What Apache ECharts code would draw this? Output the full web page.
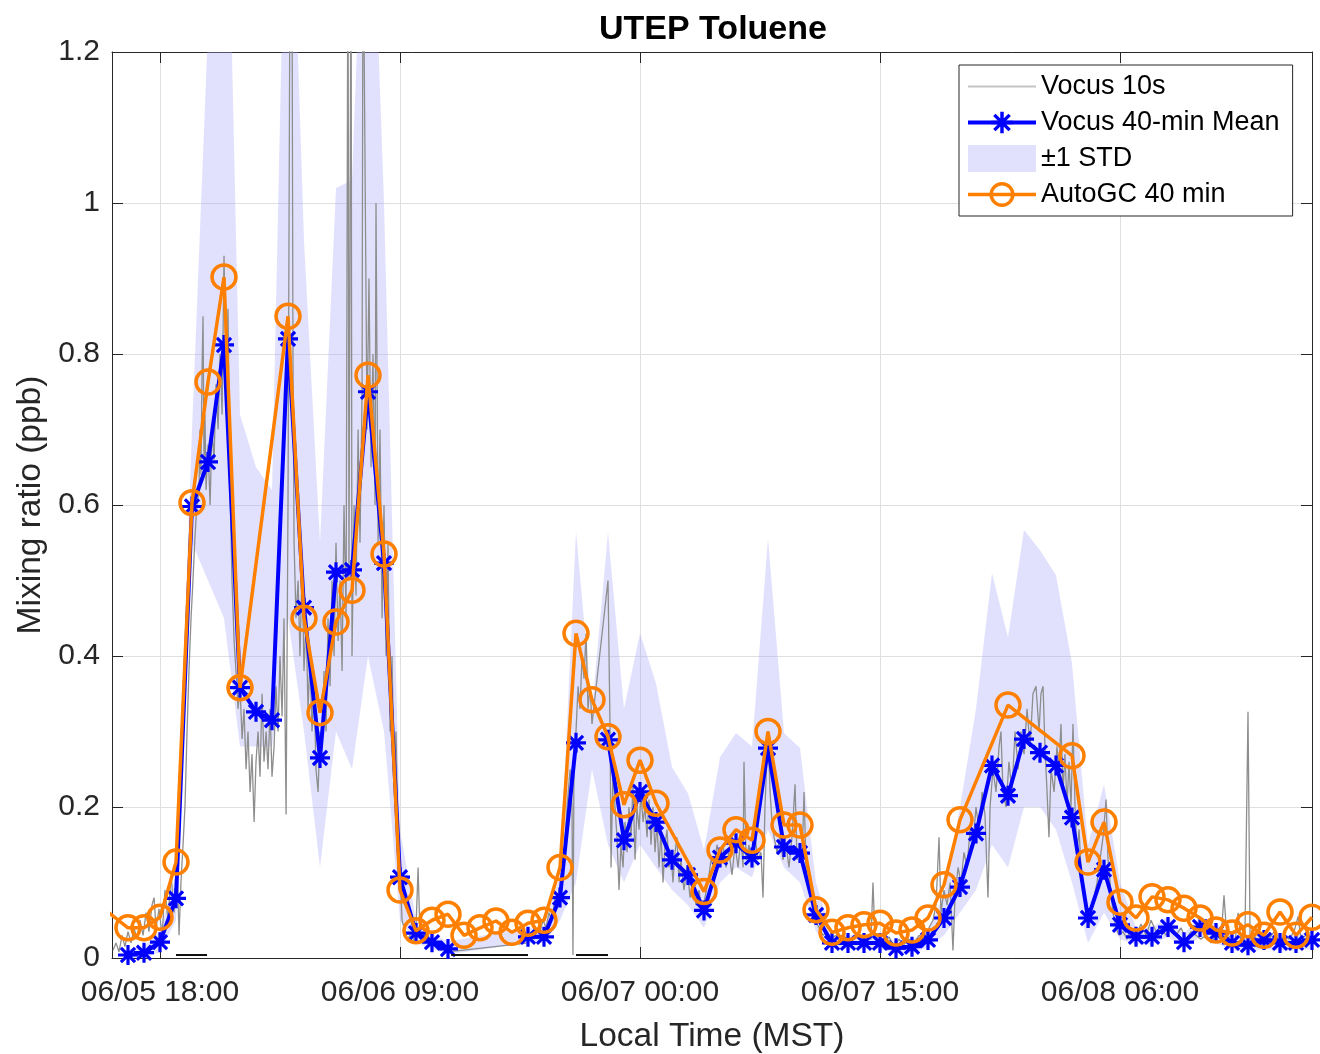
<!DOCTYPE html>
<html><head><meta charset="utf-8">
<script src="https://cdn.jsdelivr.net/npm/echarts/dist/echarts.min.js"></script>
<style>html,body{margin:0;padding:0;background:#fff}#c{width:1320px;height:1054px}</style>
</head><body><div id="c"></div>
<script>
// ---------- data (time in hours since 06/05 00:00 MST) ----------
const xTickHours = [18, 33, 48, 63, 78];

const meanTime = [16,17,18,19,20,21,22,23,24,25,26,27,28,29,30,31,32,33,34,35,36,37,38,39,40,41,42,43,44,45,46,47,48,49,50,51,52,53,54,55,56,57,58,59,60,61,62,63,64,65,66,67,68,69,70,71,72,73,74,75,76,77,78,79,80,81,82,83,84,85,86,87,88,89,90];
const meanValue = [0.004,0.007,0.021,0.079,0.598,0.657,0.812,0.358,0.326,0.315,0.820,0.464,0.265,0.511,0.514,0.750,0.523,0.107,0.033,0.021,0.012,null,null,null,null,0.028,0.028,0.080,0.285,null,0.289,0.156,0.220,0.180,0.130,0.110,0.063,0.133,0.152,0.133,0.278,0.147,0.139,0.057,0.020,0.020,0.020,0.020,0.013,0.015,0.024,0.053,0.094,0.165,0.255,0.215,0.290,0.272,0.255,0.186,0.053,0.117,0.044,0.028,0.028,0.041,0.021,0.041,0.033,0.020,0.017,0.024,0.020,0.020,0.024];

const bandTime = [16,17,18,19,20,21,22,23,24,25,26,27,28,29,30,31,32,33,34,35,36,41,42,43,44,45,46,47,48,49,50,51,52,53,54,55,56,57,58,59,60,61,62,63,64,65,66,67,68,69,70,71,72,73,74,75,76,77,78,79,80,81,82,83,84,85,86,87,88,89,90];
const bandLow  = [0.000,0.000,0.008,0.050,0.550,0.500,0.450,0.280,0.280,0.280,0.450,0.300,0.120,0.300,0.250,0.400,0.300,0.050,0.020,0.012,0.005,0.020,0.020,0.050,0.100,0.250,0.150,0.100,0.150,0.120,0.090,0.070,0.040,0.100,0.120,0.107,0.170,0.120,0.100,0.035,0.012,0.012,0.012,0.012,0.006,0.007,0.014,0.030,0.060,0.090,0.150,0.120,0.200,0.200,0.170,0.100,0.020,0.060,0.025,0.018,0.018,0.028,0.012,0.028,0.020,0.010,0.008,0.012,0.010,0.010,0.012];
const bandHigh = [0.012,0.016,0.036,0.110,0.700,1.230,1.670,0.720,0.650,0.620,1.600,0.950,0.550,1.020,1.030,1.600,1.000,0.170,0.050,0.032,0.022,0.040,0.040,0.110,0.565,0.330,0.564,0.330,0.430,0.364,0.253,0.218,0.143,0.266,0.298,0.280,0.556,0.298,0.278,0.100,0.030,0.030,0.030,0.030,0.022,0.024,0.036,0.085,0.200,0.330,0.510,0.425,0.567,0.540,0.507,0.390,0.150,0.230,0.100,0.040,0.040,0.055,0.032,0.055,0.045,0.030,0.028,0.036,0.030,0.030,0.036];

const gcTime  = [14.8,16,17,18,19,20,21,22,23,26,27,28,29,30,31,32,33,34,35,36,37,38,39,40,41,42,43,44,45,46,47,48,49,52,53,54,55,56,57,58,59,60,61,62,63,64,65,66,67,68,71,75,76,77,78,79,80,81,82,83,84,85,86,87,88,89,90];
const gcValue = [0.060,0.040,0.040,0.054,0.127,0.603,0.763,0.902,0.358,0.850,0.450,0.325,0.445,0.487,0.772,0.535,0.090,0.036,0.050,0.058,0.030,0.040,0.049,0.034,0.046,0.050,0.120,0.430,0.342,0.293,0.203,0.262,0.205,0.088,0.143,0.170,0.156,0.300,0.176,0.176,0.064,0.034,0.040,0.044,0.046,0.033,0.037,0.053,0.097,0.183,0.335,0.268,0.127,0.180,0.074,0.053,0.081,0.077,0.066,0.053,0.037,0.033,0.044,0.030,0.061,0.030,0.054];

const vocus10s = [
[15.06,0.010],[15.25,0.020],[15.44,0.008],[15.63,0.030],[15.81,0.015],[16.00,0.035],[16.19,0.020],[16.38,0.040],[16.56,0.025],[16.75,0.050],[16.94,0.030],[17.13,0.060],[17.31,0.035],[17.50,0.070],[17.63,0.080],[17.75,0.040],[17.94,0.065],[18.13,0.030],[18.31,0.090],[18.50,0.050],[18.69,0.110],[18.88,0.060],[19.06,0.130],[19.19,0.030],[19.31,0.100],[19.44,0.150],[19.56,0.200],[19.69,0.300],[19.81,0.380],[19.94,0.450],[20.06,0.500],[20.19,0.560],[20.31,0.600],[20.44,0.620],[20.50,0.700],[20.56,0.640],[20.63,0.780],[20.69,0.850],[20.75,0.660],[20.81,0.720],[20.88,0.620],[21.00,0.680],[21.13,0.600],[21.25,0.700],[21.38,0.660],[21.50,0.760],[21.63,0.700],[21.75,0.800],[21.88,0.720],[22.00,0.930],[22.13,0.780],[22.25,0.860],[22.38,0.620],[22.50,0.500],[22.63,0.420],[22.75,0.380],[22.88,0.330],[23.00,0.360],[23.13,0.290],[23.25,0.330],[23.38,0.250],[23.50,0.300],[23.63,0.220],[23.75,0.270],[23.88,0.180],[24.00,0.260],[24.13,0.300],[24.25,0.240],[24.38,0.350],[24.50,0.260],[24.63,0.300],[24.75,0.250],[24.88,0.330],[25.00,0.240],[25.13,0.280],[25.25,0.360],[25.38,0.300],[25.50,0.400],[25.63,0.320],[25.75,0.450],[25.88,0.190],[26.00,0.600],[26.13,1.350],[26.25,1.300],[26.31,0.800],[26.38,0.550],[26.50,0.450],[26.63,0.500],[26.75,0.400],[26.88,0.520],[27.00,0.380],[27.13,0.450],[27.25,0.330],[27.38,0.400],[27.50,0.300],[27.63,0.360],[27.75,0.250],[27.88,0.220],[28.00,0.300],[28.13,0.280],[28.25,0.380],[28.38,0.300],[28.50,0.450],[28.63,0.360],[28.75,0.500],[28.88,0.400],[29.00,0.550],[29.13,0.420],[29.25,0.500],[29.38,0.380],[29.50,0.600],[29.63,0.450],[29.75,1.400],[29.81,0.500],[29.94,1.400],[30.00,0.400],[30.13,0.600],[30.25,0.480],[30.38,0.700],[30.50,0.550],[30.63,0.750],[30.69,1.400],[30.81,1.400],[30.94,0.700],[31.06,0.900],[31.19,0.650],[31.31,0.800],[31.44,0.600],[31.50,1.000],[31.63,0.550],[31.75,0.700],[31.88,0.450],[32.00,0.600],[32.13,0.400],[32.25,0.550],[32.38,0.300],[32.50,0.400],[32.63,0.250],[32.75,0.300],[32.88,0.150],[33.00,0.120],[33.13,0.050],[33.25,0.040],[33.44,0.025],[33.63,0.030],[33.81,0.020],[34.00,0.040],[34.13,0.120],[34.25,0.030],[34.44,0.025],[34.63,0.040],[34.81,0.020],[35.00,0.030],[35.19,0.015],[35.38,0.020],[35.56,0.010],[35.75,0.015],[36.00,0.008],
[41.00,0.020],[41.19,0.030],[41.38,0.025],[41.56,0.040],[41.75,0.035],[41.94,0.050],[42.13,0.040],[42.31,0.060],[42.50,0.050],[42.69,0.080],[42.88,0.070],[43.06,0.100],[43.25,0.130],[43.44,0.200],[43.63,0.250],[43.75,0.200],[43.81,0.004],[43.88,0.280],[44.00,0.300],[44.13,0.360],[44.25,0.330],[44.38,0.400],[44.50,0.370],[44.63,0.430],[44.75,0.330],[44.88,0.360],[45.00,0.310],
[46.00,0.500],[46.13,0.300],[46.19,0.120],[46.31,0.250],[46.44,0.200],[46.56,0.160],[46.69,0.090],[46.81,0.150],[46.94,0.120],[47.06,0.180],[47.19,0.140],[47.31,0.200],[47.44,0.160],[47.56,0.230],[47.69,0.130],[47.81,0.200],[47.94,0.170],[48.06,0.220],[48.19,0.180],[48.31,0.200],[48.44,0.160],[48.56,0.210],[48.69,0.150],[48.81,0.200],[48.94,0.140],[49.06,0.180],[49.19,0.120],[49.31,0.170],[49.44,0.100],[49.56,0.150],[49.69,0.170],[49.81,0.120],[49.94,0.140],[50.06,0.100],[50.19,0.140],[50.31,0.160],[50.44,0.100],[50.56,0.130],[50.75,0.090],[50.94,0.120],[51.13,0.080],[51.31,0.100],[51.50,0.070],[51.69,0.090],[51.88,0.060],[52.06,0.080],[52.25,0.100],[52.44,0.130],[52.63,0.120],[52.81,0.150],[53.00,0.130],[53.19,0.150],[53.38,0.120],[53.56,0.140],[53.75,0.110],[53.94,0.150],[54.13,0.120],[54.31,0.160],[54.44,0.120],[54.50,0.260],[54.63,0.130],[54.81,0.150],[55.00,0.120],[55.19,0.160],[55.38,0.130],[55.56,0.140],[55.69,0.080],[55.81,0.200],[56.00,0.300],[56.13,0.220],[56.25,0.180],[56.38,0.160],[56.56,0.140],[56.75,0.160],[56.94,0.130],[57.13,0.150],[57.31,0.120],[57.50,0.160],[57.69,0.230],[57.81,0.130],[58.00,0.150],[58.13,0.130],[58.25,0.220],[58.38,0.120],[58.56,0.090],[58.75,0.070],[58.94,0.050],[59.19,0.040],[59.44,0.030],[59.69,0.035],[59.94,0.025],[60.25,0.030],[60.56,0.020],[60.88,0.028],[61.19,0.020],[61.50,0.030],[61.81,0.022],[62.13,0.030],[62.44,0.025],[62.56,0.100],[62.69,0.025],[62.94,0.030],[63.25,0.020],[63.56,0.028],[63.88,0.015],[64.19,0.025],[64.50,0.018],[64.81,0.025],[65.13,0.020],[65.44,0.030],[65.75,0.025],[66.06,0.040],[66.31,0.050],[66.50,0.070],[66.69,0.160],[66.81,0.060],[67.00,0.090],[67.19,0.070],[67.38,0.100],[67.56,0.010],[67.69,0.080],[67.88,0.120],[68.06,0.100],[68.25,0.140],[68.44,0.120],[68.63,0.170],[68.81,0.150],[69.00,0.200],[69.19,0.170],[69.38,0.220],[69.56,0.190],[69.75,0.080],[69.88,0.200],[70.06,0.250],[70.25,0.220],[70.44,0.280],[70.56,0.300],[70.69,0.220],[70.88,0.200],[71.06,0.260],[71.25,0.220],[71.44,0.300],[71.63,0.250],[71.81,0.300],[72.00,0.270],[72.19,0.330],[72.38,0.280],[72.56,0.350],[72.75,0.360],[72.94,0.300],[73.06,0.350],[73.19,0.360],[73.31,0.280],[73.44,0.220],[73.56,0.160],[73.69,0.250],[73.88,0.220],[74.06,0.280],[74.19,0.250],[74.31,0.310],[74.44,0.220],[74.56,0.270],[74.69,0.200],[74.81,0.260],[74.94,0.200],[75.06,0.310],[75.19,0.200],[75.31,0.140],[75.44,0.170],[75.56,0.120],[75.69,0.100],[75.81,0.070],[75.94,0.050],[76.06,0.040],[76.19,0.060],[76.38,0.080],[76.56,0.100],[76.75,0.130],[76.94,0.160],[77.13,0.210],[77.25,0.130],[77.38,0.100],[77.56,0.060],[77.75,0.040],[77.94,0.030],[78.19,0.035],[78.44,0.025],[78.69,0.040],[79.00,0.030],[79.31,0.045],[79.63,0.030],[79.94,0.050],[80.25,0.035],[80.56,0.040],[80.88,0.030],[81.19,0.045],[81.50,0.030],[81.81,0.040],[82.13,0.025],[82.44,0.035],[82.75,0.030],[83.06,0.025],[83.38,0.030],[83.69,0.020],[84.00,0.030],[84.31,0.025],[84.50,0.083],[84.69,0.025],[84.94,0.030],[85.19,0.020],[85.38,0.060],[85.56,0.025],[85.81,0.030],[86.00,0.326],[86.13,0.025],[86.38,0.030],[86.69,0.020],[87.00,0.030],[87.31,0.025],[87.63,0.035],[87.94,0.020],[88.25,0.030],[88.56,0.025],[88.88,0.035],[89.13,0.055],[89.31,0.025],[89.63,0.030],[90.06,0.025]
];

// instrument zero / blank periods (dark marks at the bottom)
const flagStart = [19.0, 36.2, 44.0];
const flagEnd   = [20.94, 41.0, 46.0];
const flagLevel = 0.004;

// ---------- chart ----------
const FONT = "'Liberation Sans', Arial, Helvetica, sans-serif";
const AX = '#262626';
const GRID = '#dfdfdf';
const BAND = 'rgba(170,170,248,0.35)';

function fmtHour(h) {
  const day = 5 + Math.floor(h / 24);
  const hh = ((h % 24) + 24) % 24;
  return '06/' + String(day).padStart(2, '0') + ' ' + String(hh).padStart(2, '0') + ':00';
}

const asterisk = 'path://M-10,-1.6L10,-1.6L10,1.6L-10,1.6Z' +
  'M-1.6,-10L1.6,-10L1.6,10L-1.6,10Z' +
  'M-5.94,-8.2L8.2,5.94L5.94,8.2L-8.2,-5.94Z' +
  'M-8.2,5.94L5.94,-8.2L8.2,-5.94L-5.94,8.2Z';

const meanData = meanTime.map((t, i) => [t, meanValue[i]]);
const gcData = gcTime.map((t, i) => [t, gcValue[i]]);
const bandData = bandTime.map((t, i) => [t, bandLow[i], bandHigh[i]]);
const flagData = [];
flagStart.forEach((s, i) => { flagData.push([s, flagLevel], [flagEnd[i], flagLevel], [flagEnd[i], null]); });

const chart = echarts.init(document.getElementById('c'), null, {renderer: 'canvas', width: 1320, height: 1054});

const baseX = {
  type: 'value', min: 15, max: 90,
  axisLine: {show: true, onZero: false, lineStyle: {color: AX, width: 1}},
  axisTick: {show: true, inside: true, length: 11, customValues: xTickHours, lineStyle: {color: AX, width: 1}},
};
const baseY = {
  type: 'value', min: 0, max: 1.2, interval: 0.2,
  axisLine: {show: true, onZero: false, lineStyle: {color: AX, width: 1}},
  axisTick: {show: true, inside: true, length: 11, lineStyle: {color: AX, width: 1}},
};

chart.setOption({
  animation: false,
  textStyle: {fontFamily: FONT},
  title: {
    text: 'UTEP Toluene', left: 594, top: 8,
    textStyle: {fontSize: 34, fontWeight: 'bold', color: '#000', fontFamily: FONT}
  },
  grid: {left: 112, right: 8, top: 52, bottom: 96, containLabel: false, outerBoundsMode: 'none'},
  xAxis: [
    Object.assign({}, baseX, {
      position: 'bottom',
      axisLabel: {customValues: xTickHours, formatter: fmtHour, fontSize: 30, color: AX, margin: 20, fontFamily: FONT},
      splitLine: {show: true, lineStyle: {color: GRID, width: 1}},
      name: 'Local Time (MST)', nameLocation: 'middle', nameGap: 62,
      nameTextStyle: {fontSize: 33.5, color: AX, fontFamily: FONT}
    }),
    Object.assign({}, baseX, {
      position: 'top',
      axisLabel: {show: false}, splitLine: {show: false}
    })
  ],
  yAxis: [
    Object.assign({}, baseY, {
      position: 'left',
      axisLabel: {fontSize: 30, color: AX, margin: 12, fontFamily: FONT},
      splitLine: {show: true, lineStyle: {color: GRID, width: 1}},
      name: 'Mixing ratio (ppb)', nameLocation: 'middle', nameGap: 64, nameRotate: 90,
      nameTextStyle: {fontSize: 33.5, color: AX, fontFamily: FONT}
    }),
    Object.assign({}, baseY, {
      position: 'right',
      axisLabel: {show: false}, splitLine: {show: false}
    })
  ],
  legend: {
    data: [
      {name: 'Vocus 10s', icon: 'path://M0,0L68,0L68,2L0,2Z', itemStyle: {color: '#c4c4c4'}},
      {name: 'Vocus 40-min Mean', lineStyle: {width: 4}},
      {name: '±1 STD', icon: 'rect'},
      {name: 'AutoGC 40 min', lineStyle: {width: 3.5}, itemStyle: {borderWidth: 3.5}}
    ],
    orient: 'vertical', left: 959, top: 65,
    itemWidth: 68, itemHeight: 27, itemGap: 9,
    padding: [8, 13, 8, 7],
    backgroundColor: '#fff', borderColor: AX, borderWidth: 1, borderRadius: 0,
    textStyle: {fontSize: 27, color: '#000', fontFamily: FONT},
    selectedMode: false
  },
  series: [
    {
      name: '±1 STD', type: 'custom', clip: true, z: 1,
      itemStyle: {color: BAND},
      data: bandData,
      encode: {x: 0, y: [1, 2]},
      renderItem: function (params, api) {
        if (params.dataIndex !== 0) return null;
        const pts = [];
        for (let i = 0; i < bandTime.length; i++) pts.push(api.coord([bandTime[i], bandHigh[i]]));
        for (let i = bandTime.length - 1; i >= 0; i--) pts.push(api.coord([bandTime[i], bandLow[i]]));
        return {type: 'polygon', shape: {points: pts}, style: {fill: BAND}};
      }
    },
    {
      name: 'Vocus 10s', type: 'line', z: 2, data: vocus10s,
      symbol: 'none', showSymbol: false,
      lineStyle: {color: '#8e8e8e', width: 1.3},
      itemStyle: {color: '#c4c4c4'}
    },
    {
      name: 'Vocus 40-min Mean', type: 'line', z: 3, data: meanData,
      connectNulls: false,
      symbol: asterisk, symbolSize: 20, showAllSymbol: true,
      lineStyle: {color: '#0000ff', width: 4},
      itemStyle: {color: '#0000ff'}
    },
    {
      name: 'AutoGC 40 min', type: 'line', z: 4, data: gcData,
      symbol: 'circle', symbolSize: 24, showAllSymbol: true,
      lineStyle: {color: '#ff8000', width: 3.5},
      itemStyle: {color: 'rgba(255,255,255,0)', borderColor: '#ff8000', borderWidth: 3.5}
    },
    {
      name: 'blank', type: 'line', z: 5, data: flagData, silent: true,
      connectNulls: false, symbol: 'none',
      lineStyle: {color: '#111', width: 2}
    }
  ]
});
</script>
</body></html>
